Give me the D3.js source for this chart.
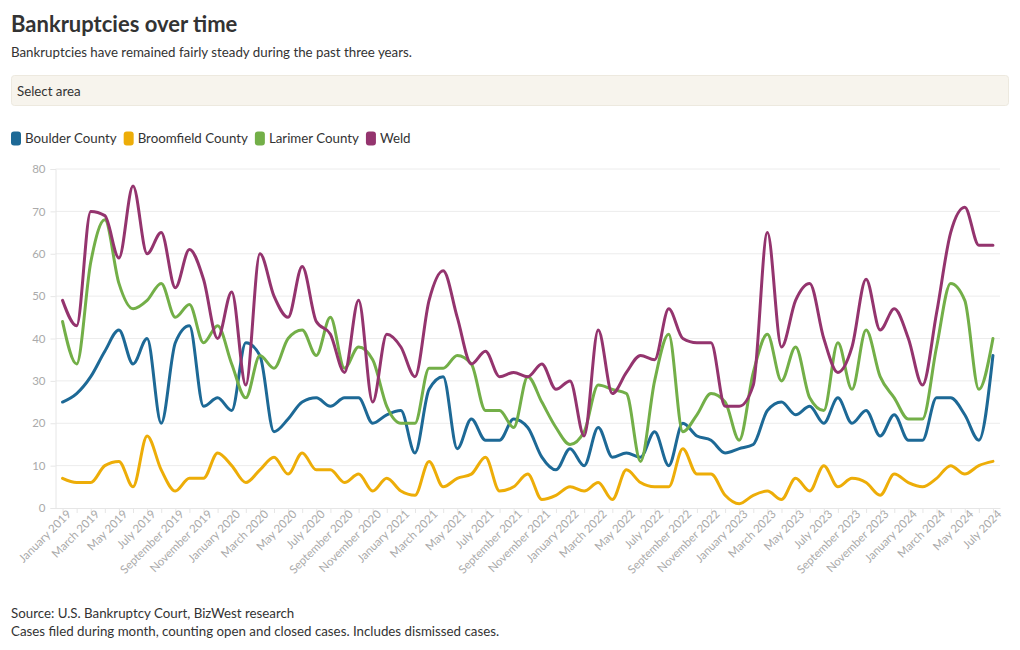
<!DOCTYPE html>
<html>
<head>
<meta charset="utf-8">
<script src="https://cdn.jsdelivr.net/npm/d3@7/dist/d3.min.js"></script>
<style>
  body { margin: 0; background: #fff; }
  svg text { font-family: Lato, "Open Sans", sans-serif; }
</style>
</head>
<body>
<svg id="chart" width="1020" height="650"></svg>
<script>
// ---- Data ----
const seriesNames = ["Boulder County", "Broomfield County", "Larimer County", "Weld"];
const seriesColors = ["#1D6996", "#EDAD08", "#73AF48", "#94346E"];
const months = d3.timeMonths(new Date(2019, 0, 1), new Date(2024, 7, 1));
const boulder = [25,27,31,37,42,34,40,20,39,43,24,26,23,39,36,18,
  21,25,26,24,26,26,20,22,23,13,28,31,14,21,16,16,21,
  19,12,9,14,10,19,12,13,12,18,10,20,17,16,13,14,
  15,23,25,22,24,20,26,20,23,17,22,16,16,26,26,22,16,36];
const broomfield = [7,6,6,10,11,5,17,9,4,7,7,13,10,6,9,12,
  8,13,9,9,6,8,4,7,4,3,11,5,7,8,12,4,5,
  8,2,3,5,4,6,2,9,6,5,5,14,8,8,3,1,
  3,4,2,7,4,10,5,7,6,3,8,6,5,7,10,8,10,11];
const larimer = [44,34,58,68,53,47,49,53,45,48,39,43,34,26,36,33,
  40,42,36,45,33,38,35,24,20,20,33,33,36,34,23,23,19,
  31,25,19,15,18,29,28,27,11,30,41,18,22,27,25,16,
  32,41,30,38,26,23,39,28,42,31,26,21,21,38,53,49,28,40];
const weld = [49,43,70,69,59,76,60,65,52,61,54,40,51,29,60,50,
  45,57,44,41,32,49,25,41,38,31,49,56,45,34,37,31,32,
  31,34,28,30,17,42,27,32,36,35,47,40,39,39,24,24,
  29,65,38,49,53,40,32,38,54,42,47,40,29,46,65,71,62,62];
const seriesValues = [boulder, broomfield, larimer, weld];
const yTicks = [0,10,20,30,40,50,60,70,80];

// ---- Layout ----
const svg = d3.select("#chart");
const plot = { left: 55.5, right: 1000, top: 169, bottom: 508 };
const bodySize = 13.3;

// Header
svg.append("text").attr("x", 11).attr("y", 32)
  .attr("font-size", 22).attr("font-weight", 700).attr("fill", "#333")
  .text("Bankruptcies over time");
svg.append("text").attr("x", 11).attr("y", 57)
  .attr("font-size", bodySize).attr("fill", "#333")
  .text("Bankruptcies have remained fairly steady during the past three years.");

// Select box
svg.append("rect").attr("x", 11.5).attr("y", 75.5).attr("width", 997).attr("height", 30)
  .attr("rx", 3).attr("fill", "#f7f4ed").attr("stroke", "#ede9df");
svg.append("text").attr("x", 17).attr("y", 96)
  .attr("font-size", bodySize).attr("fill", "#333").text("Select area");

// Legend
const legend = svg.append("g");
let lx = 11;
seriesNames.forEach((name, i) => {
  legend.append("rect").attr("x", lx).attr("y", 131.5).attr("width", 10).attr("height", 14)
    .attr("rx", 3).attr("fill", seriesColors[i]);
  const t = legend.append("text").attr("x", lx + 14).attr("y", 143)
    .attr("font-size", bodySize).attr("fill", "#333").text(name);
  lx += 14 + t.node().getComputedTextLength() + 7;
});

// Scales
const x = d3.scalePoint().domain(months.map(d => +d)).range([plot.left, plot.right]).padding(0.5);
const y = d3.scaleLinear().domain([0, 80]).range([plot.bottom, plot.top]);

// Gridlines
svg.append("g").selectAll("line").data(yTicks.filter(d => d > 0)).join("line")
  .attr("x1", plot.left).attr("x2", plot.right)
  .attr("y1", d => y(d)).attr("y2", d => y(d))
  .attr("stroke", "#ececec").attr("stroke-width", 1);

// Y axis
const yAxis = svg.append("g").attr("transform", `translate(${plot.left},0)`)
  .call(d3.axisLeft(y).tickValues(yTicks).tickSize(5).tickPadding(5));
yAxis.select(".domain").attr("stroke", "#e6e6e6");
yAxis.selectAll(".tick line").attr("stroke", "#e6e6e6");
yAxis.selectAll(".tick text").attr("fill", "#aaa").attr("font-size", 11.5)
  .attr("font-family", "Lato, sans-serif");

// X axis
const fmt = d3.timeFormat("%B %Y");
const xAxis = svg.append("g").attr("transform", `translate(0,${plot.bottom})`)
  .call(d3.axisBottom(x).tickSize(5).tickSizeOuter(0)
    .tickFormat((d, i) => i % 2 === 0 ? fmt(new Date(d)) : ""));
xAxis.select(".domain").attr("stroke", "#e6e6e6");
xAxis.selectAll(".tick line").attr("stroke", "#e6e6e6");
xAxis.selectAll(".tick text").attr("fill", "#aaa").attr("font-size", 11.5)
  .attr("font-family", "Lato, sans-serif")
  .attr("text-anchor", "end")
  .attr("transform", "translate(6,4) rotate(-45)")
  .attr("dy", "0.35em").attr("y", 0).attr("x", 0);

// Lines
const line = d3.line()
  .x((d, i) => x(+months[i]))
  .y(d => y(d))
  .curve(d3.curveMonotoneX);
svg.append("g").selectAll("path").data(seriesValues).join("path")
  .attr("d", d => line(d))
  .attr("fill", "none")
  .attr("stroke", (d, i) => seriesColors[i])
  .attr("stroke-width", 3)
  .attr("stroke-linejoin", "round")
  .attr("stroke-linecap", "round");

// Footer
svg.append("text").attr("x", 11).attr("y", 618)
  .attr("font-size", bodySize).attr("fill", "#333")
  .text("Source: U.S. Bankruptcy Court, BizWest research");
svg.append("text").attr("x", 11).attr("y", 636)
  .attr("font-size", bodySize).attr("fill", "#333")
  .text("Cases filed during month, counting open and closed cases. Includes dismissed cases.");
</script>
</body>
</html>
